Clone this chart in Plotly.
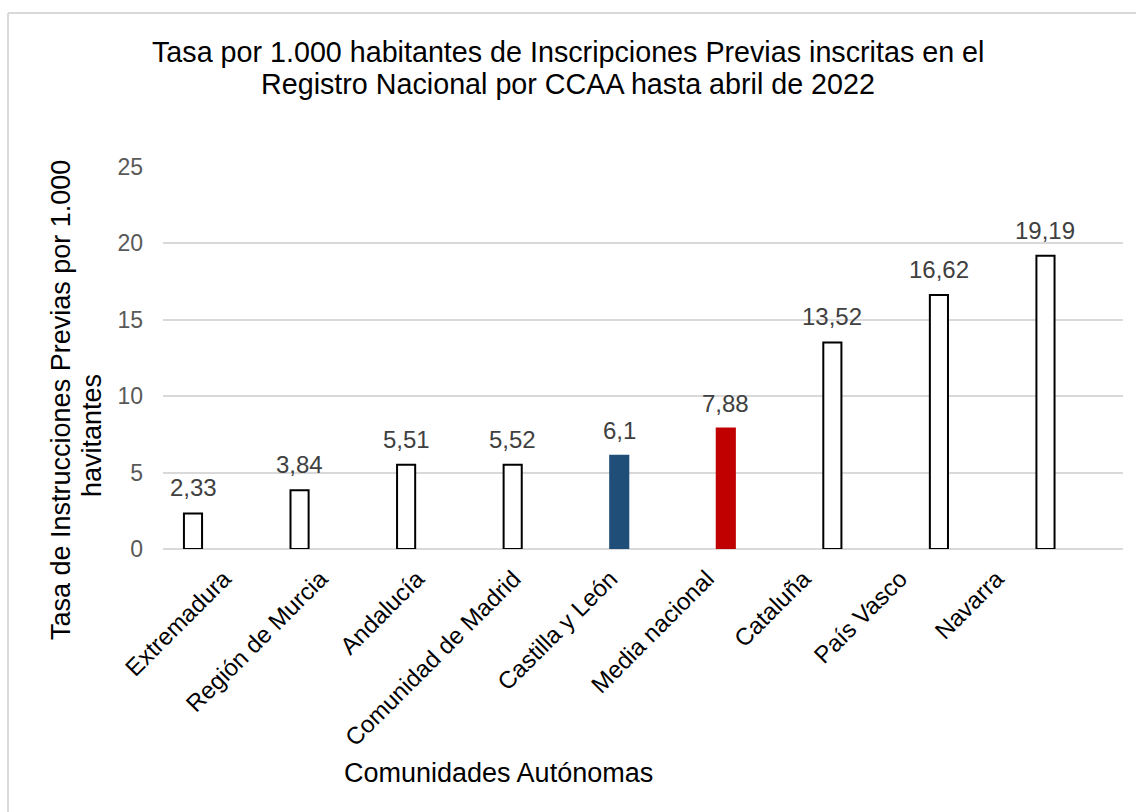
import plotly.graph_objects as go

categories = ["Extremadura", "Región de Murcia", "Andalucía", "Comunidad de Madrid",
              "Castilla y León", "Media nacional", "Cataluña", "País Vasco", "Navarra"]
values = [2.33, 3.84, 5.51, 5.52, 6.1, 7.88, 13.52, 16.62, 19.19]
fill_colors = ["#FFFFFF", "#FFFFFF", "#FFFFFF", "#FFFFFF", "#1F4E79", "#C00000",
               "#FFFFFF", "#FFFFFF", "#FFFFFF"]
line_colors = ["#000000", "#000000", "#000000", "#000000", "#1F4E79", "#C00000",
               "#000000", "#000000", "#000000"]
y_ticks = [0, 5, 10, 15, 20, 25]

title_lines = ["Tasa por 1.000 habitantes de Inscripciones Previas inscritas en el",
               "Registro Nacional por CCAA hasta abril de 2022"]
y_title_lines = ["Tasa de Instrucciones Previas por 1.000", "havitantes"]
x_title = "Comunidades Autónomas"

W, H = 1136, 812
L, R, T, B = 163, 13, 167, 263
PW, PH = W - L - R, H - T - B
FONT = "Liberation Sans, Arial, sans-serif"

def px2x(px):
    return (px - L) / PW

def py2y(py):
    return (H - B - py) / PH

# bar axis geometry (pixels)
first_center, spacing = 193.0, 106.56
x_lo = (L - first_center) / spacing
x_hi = (L + PW - first_center) / spacing

# label axis geometry (pixels) - category labels in the reference sit on a tighter pitch
lab_first, lab_spacing = 224.0, 96.6
x2_lo = (L - lab_first) / lab_spacing
x2_hi = (L + PW - lab_first) / lab_spacing

labels = [f"{v:g}".replace(".", ",") for v in values]
idx = list(range(len(categories)))

fig = go.Figure()
fig.add_trace(go.Bar(
    x=categories, y=values, width=0.17,
    marker=dict(color=fill_colors, line=dict(color=line_colors, width=2)),
    hoverinfo="x+y", showlegend=False,
))
fig.add_trace(go.Scatter(
    x=idx, y=[None] * len(idx), xaxis="x2", yaxis="y",
    mode="markers", showlegend=False, hoverinfo="skip",
))

annotations = []
for c, v, t in zip(categories, values, labels):
    annotations.append(dict(x=c, y=v, xref="x", yref="y", text=t, showarrow=False,
                            yanchor="bottom", yshift=10,
                            font=dict(family=FONT, size=24, color="#404040")))
annotations.append(dict(x=px2x(568), y=py2y(52), xref="paper", yref="paper",
                        text=title_lines[0], showarrow=False, xanchor="center", yanchor="middle",
                        font=dict(family=FONT, size=28.7, color="#000000")))
annotations.append(dict(x=px2x(568), y=py2y(84), xref="paper", yref="paper",
                        text=title_lines[1], showarrow=False, xanchor="center", yanchor="middle",
                        font=dict(family=FONT, size=28.7, color="#000000")))
annotations.append(dict(x=px2x(61), y=py2y(400), xref="paper", yref="paper",
                        text=y_title_lines[0], showarrow=False, textangle=-90,
                        xanchor="center", yanchor="middle",
                        font=dict(family=FONT, size=27, color="#000000")))
annotations.append(dict(x=px2x(92), y=py2y(436), xref="paper", yref="paper",
                        text=y_title_lines[1], showarrow=False, textangle=-90,
                        xanchor="center", yanchor="middle",
                        font=dict(family=FONT, size=27, color="#000000")))
annotations.append(dict(x=px2x(498), y=py2y(773), xref="paper", yref="paper",
                        text=x_title, showarrow=False, xanchor="center", yanchor="middle",
                        font=dict(family=FONT, size=27, color="#000000")))

shapes = [
    dict(type="line", xref="paper", yref="paper", x0=px2x(8), x1=px2x(1200),
         y0=py2y(13), y1=py2y(13), line=dict(color="#D9D9D9", width=2)),
    dict(type="line", xref="paper", yref="paper", x0=px2x(8), x1=px2x(8),
         y0=py2y(13), y1=py2y(900), line=dict(color="#D9D9D9", width=2)),
]

fig.update_layout(
    width=W, height=H, autosize=False,
    margin=dict(l=L, r=R, t=T, b=B, pad=0),
    paper_bgcolor="white", plot_bgcolor="white",
    font=dict(family=FONT),
    annotations=annotations, shapes=shapes,
    xaxis=dict(
        type="category", range=[x_lo, x_hi], showticklabels=False,
        showgrid=False, showline=False, zeroline=False, ticks="",
    ),
    xaxis2=dict(
        type="linear", overlaying="x", side="bottom", anchor="y",
        range=[x2_lo, x2_hi], tickvals=idx, ticktext=categories, tickangle=-45,
        tickfont=dict(family=FONT, size=24, color="#000000"),
        showgrid=False, showline=False, zeroline=False, ticks="",
        ticklabelstandoff=10,
    ),
    yaxis=dict(
        range=[0, 25], tickvals=y_ticks, ticktext=[str(t) for t in y_ticks],
        tickfont=dict(family=FONT, size=23, color="#595959"),
        showgrid=True, gridcolor="#D9D9D9", gridwidth=1.5,
        zeroline=True, zerolinecolor="#D9D9D9", zerolinewidth=1.5,
        showline=False, ticks="", ticklabelstandoff=19,
    ),
)

fig.write_html("out.html")
